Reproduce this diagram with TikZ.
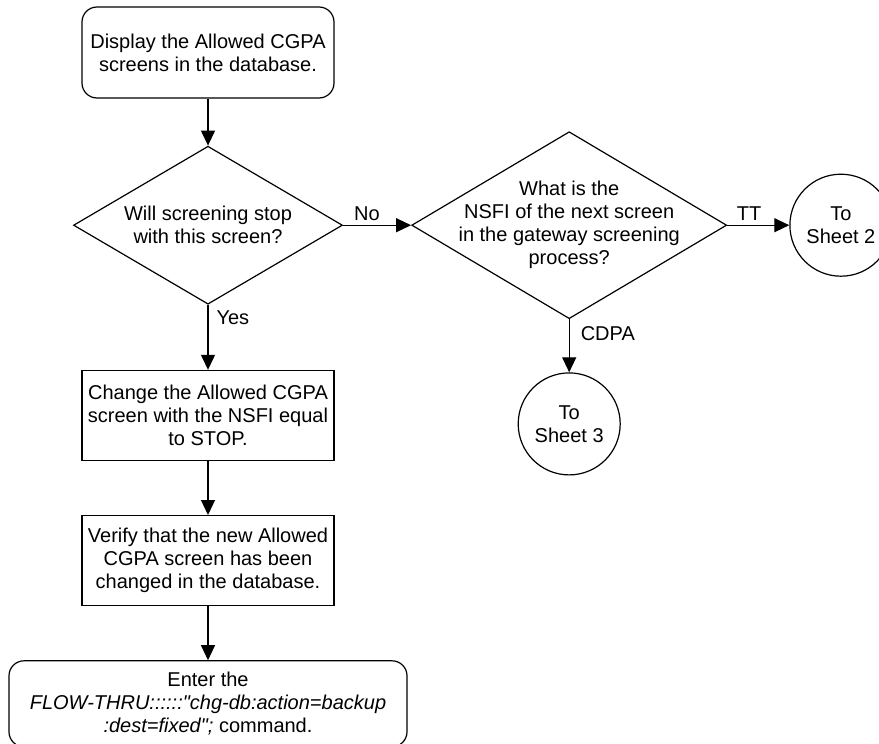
\documentclass[tikz,border=0pt]{standalone}
\usepackage{fontspec}
\setmainfont{Liberation Sans}
\usetikzlibrary{arrows.meta,positioning,shapes.geometric}

\begin{document}
\begin{tikzpicture}[
  font=\fontsize{10pt}{11.5pt}\selectfont,
  line width=0.6pt,
  box/.style={draw, align=center, minimum height=45pt, minimum width=126pt,
    inner sep=2pt},
  term/.style={box, rounded corners=7.5pt},
  decision/.style={draw, diamond, inner sep=0pt},
  sheet/.style={draw, circle, align=center, minimum size=51pt, inner sep=0pt},
  arrow/.style={-{Triangle[length=7.5pt, width=7pt]}},
  tag/.style={inner sep=2pt}
]
\useasboundingbox (0,0) rectangle (439.5pt,-372pt);

\node[term, minimum height=45.5pt] (start) at (104pt,-26.25pt)
  {Display the Allowed CGPA\\screens in the database.};
\node[decision, minimum width=134.5pt, minimum height=79pt, below=23.5pt of start,
  label={[align=center]center:Will screening stop\\with this screen?}] (stop) {};
\node[decision, minimum width=157.5pt, minimum height=93.5pt, right=34pt of stop,
  label={[align=center]center:What is the\\NSFI of the next screen\\in the gateway screening\\process?}] (nsfi) {};
\node[sheet, right=31pt of nsfi] (sheet2) {To\\Sheet 2};
\node[sheet, below=26.5pt of nsfi] (sheet3) {To\\Sheet 3};

\node[box, below=32.5pt of stop] (change)
  {Change the Allowed CGPA\\screen with the NSFI equal\\to STOP.};
\node[box, below=27pt of change] (verify)
  {Verify that the new Allowed\\CGPA screen has been\\changed in the database.};
\node[term, minimum width=199pt, minimum height=43pt, below=27pt of verify] (backup)
  {Enter the\\\textit{FLOW-THRU::::::\textquotedbl chg-db:action=backup}\\\textit{:dest=fixed\textquotedbl;} command.};

\draw[arrow] (start) -- (stop);
\draw[arrow] (stop) -- node[tag, above, pos=0.35] {No} (nsfi);
\draw[arrow] (nsfi) -- node[tag, above, pos=0.35] {TT} (sheet2);
\draw[arrow] (stop) -- node[tag, right=2pt, pos=0.2] {Yes} (change);
\draw[arrow] (nsfi) -- node[tag, right=3.5pt, pos=0.27] {CDPA} (sheet3);
\draw[arrow] (change) -- (verify);
\draw[arrow] (verify) -- (backup);
\end{tikzpicture}
\end{document}
